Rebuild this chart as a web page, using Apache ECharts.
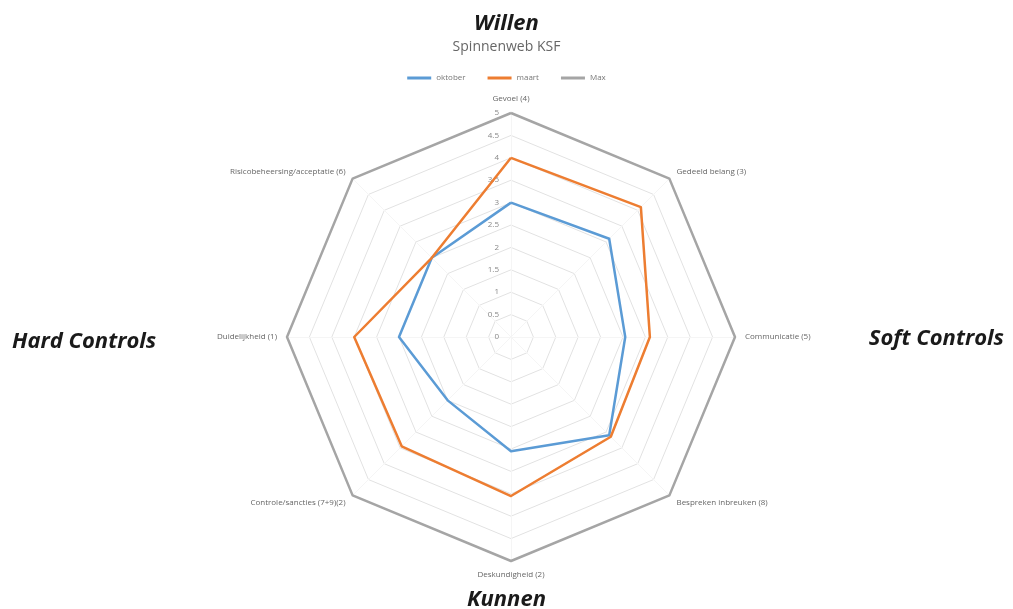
<!DOCTYPE html>
<html>
	<head>
		<meta charset="UTF-8">
		<title></title>
		<script type="text/javascript" src="https://cdn.jsdelivr.net/npm/echarts@6/dist/echarts.min.js"></script>
		<style>body{margin:0;background:#fff;}</style>
	</head>
	<body>
		<div id="main" style="width: 1013px;height: 609px;"></div>
		<script type="text/javascript">
			// indicators clockwise from top (as in the picture)
			var indicators = ['Gevoel (4)', 'Gedeeld belang (3)', 'Communicatie (5)', 'Bespreken inbreuken (8)',
				'Deskundigheid (2)', 'Controle/sancties (7+9)(2)', 'Duidelijkheid (1)', 'Risicobeheersing/acceptatie (6)'];
			var oktober = [3, 3.1, 2.55, 3.1, 2.55, 2, 2.5, 2.5];
			var maart = [4, 4.1, 3.1, 3.15, 3.55, 3.45, 3.5, 2.5];
			var maxVals = [5, 5, 5, 5, 5, 5, 5, 5];
			var seriesNames = ['oktober', 'maart', 'Max'];
			var colors = ['#5B9BD5', '#ED7D31', '#A5A5A5'];

			var myChart = echarts.init(document.getElementById("main"));

			// echarts radar runs counter-clockwise, so flip everything after the first one
			function ccw(arr) {
				return [arr[0]].concat(arr.slice(1).reverse());
			}

			var ind = ccw(indicators).map(function (n, i) {
				var o = { name: n, min: 0, max: 5 };
				if (i === 0) {
					o.axisLabel = { show: true };
				}
				return o;
			});

			var bigText = { fontFamily: 'Open Sans', fontWeight: 'bold', fontStyle: 'italic', fontSize: 22, color: '#1a1a1a' };

			var option = {
				color: colors,
				animation: false,
				title: [
					{ text: 'Willen', subtext: 'Spinnenweb KSF', left: 'center', top: 8, itemGap: 5,
						textStyle: bigText,
						subtextStyle: { fontFamily: 'Open Sans', fontSize: 14, color: '#666' } },
					{ text: 'Hard Controls', left: 7, top: 326, textStyle: bigText },
					{ text: 'Soft Controls', right: 4, top: 323, textStyle: bigText },
					{ text: 'Kunnen', left: 'center', top: 584, textStyle: bigText }
				],
				legend: {
					top: 69,
					left: 'center',
					itemWidth: 24,
					itemHeight: 3,
					itemGap: 22,
					icon: 'rect',
					textStyle: { fontSize: 8, color: '#777', fontFamily: 'Open Sans' },
					data: seriesNames
				},
				radar: {
					center: [511, 337],
					radius: 224,
					startAngle: 90,
					splitNumber: 10,
					shape: 'polygon',
					indicator: ind,
					nameGap: 10,
					axisName: { color: '#666', fontSize: 8, fontFamily: 'Open Sans' },
					axisLine: { show: true, lineStyle: { color: '#f5f5f5', width: 1 } },
					splitLine: { lineStyle: { color: '#e2e2e2', width: 1 } },
					splitArea: { show: false },
					axisTick: { show: false },
					axisLabel: { show: false, color: '#888', fontSize: 8, fontFamily: 'Open Sans', margin: 12 }
				},
				series: [{
					type: 'radar',
					symbol: 'none',
					data: [
						{ name: seriesNames[0], value: ccw(oktober), lineStyle: { width: 2.5, color: colors[0] } },
						{ name: seriesNames[1], value: ccw(maart), lineStyle: { width: 2.5, color: colors[1] } },
						{ name: seriesNames[2], value: ccw(maxVals), lineStyle: { width: 2.5, color: colors[2] } }
					]
				}]
			};
			myChart.setOption(option);
		</script>
	</body>
</html>
